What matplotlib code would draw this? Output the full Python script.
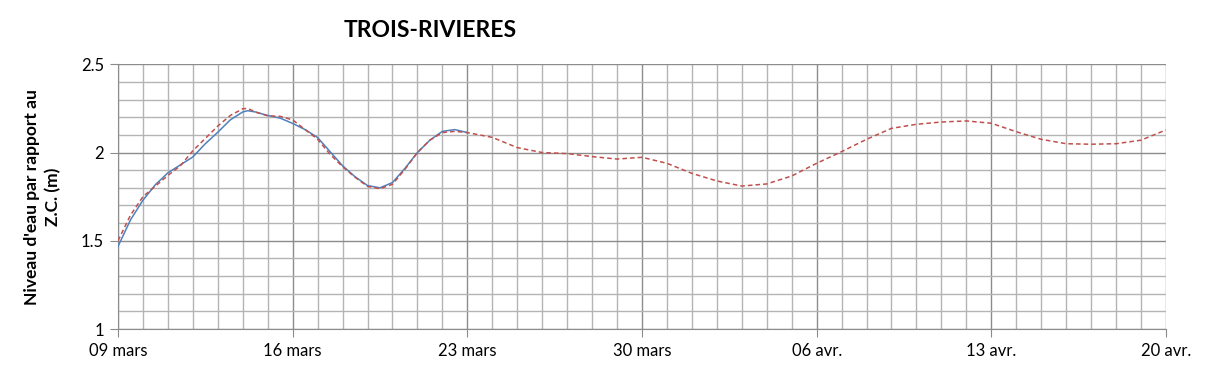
import datetime as dt
import matplotlib
matplotlib.use("Agg")
import matplotlib.pyplot as plt
import matplotlib.dates as mdates
from matplotlib.ticker import MultipleLocator

plt.rcParams['font.family'] = ['Lato', 'DejaVu Sans']

# jours depuis le 09 mars
jours_obs = [0, 0.5, 1, 1.5, 2, 2.5, 3, 3.5, 4, 4.5, 5, 5.2, 5.5, 6, 6.5, 7,
             7.5, 8, 8.5, 9, 9.5, 10, 10.5, 11, 11.5, 12, 12.5, 13, 13.5, 14]
niveau_obs = [1.468, 1.618, 1.73, 1.818, 1.885, 1.93, 1.975, 2.05, 2.115, 2.185,
              2.23, 2.237, 2.23, 2.21, 2.195, 2.165, 2.13, 2.085, 2.005, 1.925,
              1.863, 1.813, 1.80, 1.83, 1.91, 2.0, 2.07, 2.12, 2.13, 2.113]

jours_prev = [0, 0.5, 1, 1.5, 2, 2.5, 3, 3.5, 4, 4.5, 5, 5.2, 5.5, 6, 6.5, 7,
              7.5, 8, 8.5, 9, 9.5, 10, 10.5, 11, 11.5, 12, 12.5, 13, 13.5, 14,
              15, 16, 17, 18, 19, 20, 21, 22, 23, 24, 25, 26, 27, 28, 29, 30,
              31, 32, 33, 34, 35, 36, 37, 38, 39, 40, 41, 42]
niveau_prev = [1.50, 1.645, 1.75, 1.81, 1.87, 1.925, 2.01, 2.08, 2.15, 2.21,
               2.248, 2.25, 2.23, 2.208, 2.205, 2.185, 2.13, 2.075, 1.99, 1.92,
               1.86, 1.808, 1.795, 1.82, 1.905, 2.0, 2.07, 2.113, 2.12, 2.113,
               2.086, 2.028, 2.0, 1.994, 1.977, 1.963, 1.973, 1.939, 1.882,
               1.839, 1.81, 1.822, 1.867, 1.939, 2.005, 2.075, 2.137, 2.16,
               2.173, 2.179, 2.166, 2.118, 2.075, 2.05, 2.047, 2.05, 2.07, 2.128]

etiquettes_x = ['09 mars', '16 mars', '23 mars', '30 mars', '06 avr.', '13 avr.', '20 avr.']
graduations_y = [1, 1.5, 2, 2.5]
etiquettes_y = ['1', '1.5', '2', '2.5']

debut = dt.datetime(2013, 3, 9)
x_obs = [debut + dt.timedelta(days=j) for j in jours_obs]
x_prev = [debut + dt.timedelta(days=j) for j in jours_prev]

fig = plt.figure(figsize=(12.09, 3.78), dpi=100)
ax = fig.add_axes([0.0976, 0.1296, 0.8668, 0.7003])

ax.plot(x_obs, niveau_obs, color='#4F81BD', lw=1.1, zorder=3)
ax.plot(x_prev, niveau_prev, color='#C0504D', lw=1.1, ls=(0, (3, 2)), zorder=4)

ax.set_xlim(debut, debut + dt.timedelta(days=42))
ax.set_ylim(1, 2.5)

ax.xaxis.set_minor_locator(mdates.DayLocator())
ax.set_xticks([debut + dt.timedelta(days=7 * i) for i in range(7)])
ax.set_xticklabels(etiquettes_x)
ax.yaxis.set_minor_locator(MultipleLocator(0.1))
ax.set_yticks(graduations_y)
ax.set_yticklabels(etiquettes_y)

ax.grid(which='major', color='#8C8C8C', lw=1.0)
ax.grid(which='minor', color='#B4B4B4', lw=1.0)
ax.set_axisbelow(True)

ax.tick_params(which='major', length=6, color='#8C8C8C', labelsize=12, pad=4)
ax.tick_params(which='minor', length=0)
for s in ['top', 'right']:
    ax.spines[s].set_visible(False)
for s in ['left', 'bottom']:
    ax.spines[s].set_color('#8C8C8C')

ax.set_ylabel("Niveau d'eau par rapport au\nZ.C. (m)", fontsize=12.5,
              fontweight='bold', labelpad=14, linespacing=1.4)
fig.text(0.356, 0.92, 'TROIS-RIVIERES', fontsize=16.5, fontweight='bold',
         ha='center', va='center')

fig.savefig('out.png', dpi=100)
